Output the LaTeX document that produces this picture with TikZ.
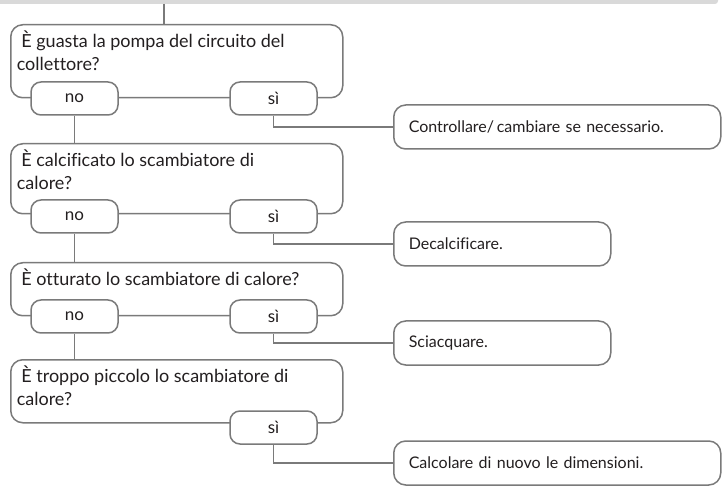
\documentclass[tikz,border=0pt]{standalone}
\usepackage{fontspec}
\setmainfont{Lato}[Ligatures=NoCommon]
\usetikzlibrary{positioning}
\definecolor{linegray}{HTML}{7A7A7A}
\definecolor{bandgray}{HTML}{D9D9D9}
\definecolor{textdark}{HTML}{231F20}
% question text: fixed height, set from the top
\newcommand{\qtxt}[2]{\parbox[c][#1][t]{320pt}{\raggedright #2}}

\begin{document}
\begin{tikzpicture}[
  x=1pt,
  y=-1pt,
  every node/.style={font=\fontsize{16}{22}\selectfont, text=textdark},
  conn/.style={draw=linegray, line width=1.5pt},
  question/.style={draw=linegray, line width=1.5pt, rounded corners=12pt, fill=white,
    anchor=north west, inner xsep=6pt, inner ysep=6.5pt,
    font=\fontsize{18}{22.5}\selectfont},
  answer/.style={draw=linegray, line width=1.5pt, rounded corners=10pt, fill=white,
    minimum width=87pt, minimum height=33pt, inner sep=0pt,
    font=\fontsize{17}{22}\selectfont},
  action/.style={draw=linegray, line width=1.5pt, rounded corners=12pt, fill=white,
    anchor=west, minimum height=44pt, inner xsep=15pt, align=left}
]
  \useasboundingbox (0,0) rectangle (723,486);
  \fill[bandgray, rounded corners=3pt] (-6,-10) rectangle (718,4);
  \coordinate (band) at (164,4);

  % questions
  \node[question] (q1) at (10,24)
    {\qtxt{60pt}{\ È guasta la pompa del circuito del\\collettore?}};
  \node[question] (q2) at (10,143)
    {\qtxt{57pt}{\ È calcificato lo scambiatore di\\calore?}};
  \node[question] (q3) at (10,262)
    {\qtxt{40pt}{\ È otturato lo scambiatore di calore?}};
  \node[question] (q4) at (10,359)
    {\qtxt{50pt}{\ È troppo piccolo lo scambiatore di\\calore?}};

  % no / si
  \node[answer, xshift=64.5pt] (n1) at (q1.south west) {no};
  \node[answer, xshift=263.5pt] (s1) at (q1.south west) {sì};
  \node[answer, xshift=64.5pt, yshift=-2pt] (n2) at (q2.south west) {no};
  \node[answer, xshift=263.5pt, yshift=-2pt] (s2) at (q2.south west) {sì};
  \node[answer, xshift=64.5pt] (n3) at (q3.south west) {no};
  \node[answer, xshift=263.5pt] (s3) at (q3.south west) {sì};
  \node[answer, xshift=263.5pt, yshift=-4pt] (s4) at (q4.south west) {sì};

  % actions
  \node[action, text width=297pt] (a1) at (393,127) {Controllare/\,cambiare se necessario.};
  \node[action, text width=187pt] (a2) at (393,244) {Decalcificare.};
  \node[action, text width=187pt] (a3) at (393,343) {Sciacquare.};
  \node[action, text width=297pt] (a4) at (393,463) {Calcolare di nuovo le dimensioni.};

  \draw[conn] (band) -- (band |- q1.north);
  \draw[conn] (n1.south) -- (n1.south |- q2.north);
  \draw[conn] (n2.south) -- (n2.south |- q3.north);
  \draw[conn] (n3.south) -- (n3.south |- q4.north);
  \draw[conn] (s1.south) |- (a1.west);
  \draw[conn] (s2.south) |- (a2.west);
  \draw[conn] (s3.south) |- (a3.west);
  \draw[conn] (s4.south) |- (a4.west);
\end{tikzpicture}
\end{document}
